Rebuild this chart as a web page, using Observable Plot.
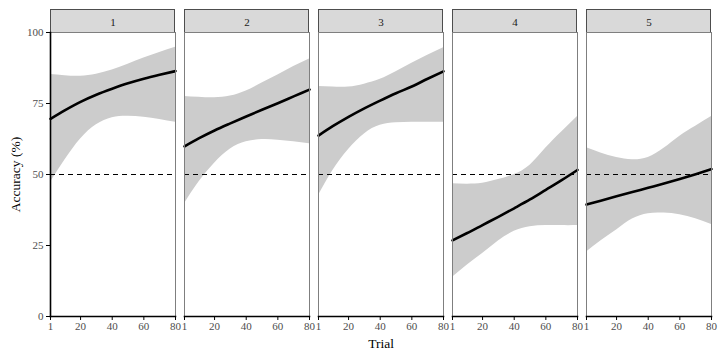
<!DOCTYPE html>
<html><head><meta charset="utf-8">
<script src="https://cdn.jsdelivr.net/npm/d3@7"></script>
<script src="https://cdn.jsdelivr.net/npm/@observablehq/plot@0.6"></script>
<style>
body{margin:0;background:#fff;}
</style>
</head><body><div id="chart"></div>
<script>
const panels = [1, 2, 3, 4, 5];
const trials = [1, 10, 20, 30, 40, 50, 60, 70, 80];
const xTicks = [1, 20, 40, 60, 80];
const yTicks = [0, 25, 50, 75, 100];
const chance = 50;
const xLabel = "Trial";
const yLabel = "Accuracy (%)";

const fit1 = [69.6, 72.6, 75.6, 78.1, 80.2, 82.1, 83.7, 85.1, 86.4];
const hi1  = [85.2, 84.8, 84.6, 85.3, 86.8, 88.8, 91.0, 93.0, 94.8];
const lo1  = [47.3, 55.0, 62.5, 67.5, 70.0, 70.5, 70.2, 69.4, 68.4];

const fit2 = [59.9, 62.7, 65.5, 68.0, 70.4, 72.8, 75.1, 77.5, 79.9];
const hi2  = [77.5, 77.2, 77.0, 77.6, 79.4, 82.2, 85.0, 88.0, 90.7];
const lo2  = [39.7, 47.3, 54.0, 59.0, 61.5, 62.3, 62.1, 61.5, 60.8];

const fit3 = [63.7, 67.0, 70.3, 73.3, 76.0, 78.6, 81.0, 83.7, 86.3];
const hi3  = [81.0, 80.8, 80.8, 81.8, 83.5, 86.2, 89.2, 92.0, 94.6];
const lo3  = [42.6, 51.3, 58.8, 64.3, 67.3, 68.2, 68.4, 68.4, 68.4];

const fit4 = [26.8, 29.3, 32.2, 35.1, 38.1, 41.2, 44.6, 48.0, 51.6];
const hi4  = [46.7, 46.6, 46.9, 48.2, 50.0, 53.3, 59.3, 65.0, 70.4];
const lo4  = [13.8, 18.0, 22.2, 26.6, 30.0, 31.6, 32.0, 32.0, 32.0];

const fit5 = [39.4, 40.8, 42.3, 43.8, 45.3, 46.8, 48.4, 50.1, 51.9];
const hi5  = [59.4, 57.6, 56.0, 55.2, 56.0, 59.2, 63.5, 67.0, 70.4];
const lo5  = [22.7, 26.6, 30.5, 34.3, 36.2, 36.4, 35.8, 34.4, 32.4];

const fits = [fit1, fit2, fit3, fit4, fit5];
const his = [hi1, hi2, hi3, hi4, hi5];
const los = [lo1, lo2, lo3, lo4, lo5];

const rows = panels.flatMap((p, i) => trials.map((t, j) => ({
  panel: p, trial: t, fit: fits[i][j], hi: his[i][j], lo: los[i][j]
})));

const STRIP_H = 23;
const strip = Plot.frame({
  render(index, scales, values, dim) {
    const g = d3.create("svg:g");
    g.append("rect")
      .attr("x", dim.marginLeft + 0.5)
      .attr("y", dim.marginTop - STRIP_H + 0.5)
      .attr("width", dim.width - dim.marginLeft - dim.marginRight - 1)
      .attr("height", STRIP_H)
      .attr("fill", "#d9d9d9")
      .attr("stroke", "#4d4d4d")
      .attr("stroke-width", 1);
    return g.node();
  }
});

const FONT = "'Liberation Serif', 'Times New Roman', serif";

const chart = Plot.plot({
  width: 720,
  height: 360,
  marginLeft: 49,
  marginRight: 9,
  marginTop: 32,
  marginBottom: 44,
  style: {fontFamily: FONT, fontSize: "11px", background: "#fff"},
  fx: {domain: panels, padding: 0.069, paddingOuter: 0},
  x: {domain: [1, 80]},
  y: {domain: [0, 100]},
  marks: [
    strip,
    Plot.areaY(rows, {x: "trial", y1: "lo", y2: "hi", fx: "panel", fill: "#cccccc", curve: "natural"}),
    Plot.ruleY([chance], {stroke: "black", strokeWidth: 1.1, strokeDasharray: "5,4"}),
    Plot.line(rows, {x: "trial", y: "fit", fx: "panel", stroke: "black", strokeWidth: 2.6, curve: "monotone-x"}),
    Plot.frame({stroke: "#7f7f7f", strokeWidth: 1}),
    Plot.frame({anchor: "bottom", stroke: "black", strokeWidth: 1.6}),
    Plot.frame({anchor: "left", facetAnchor: "left", stroke: "black", strokeWidth: 1.6}),
    Plot.axisY({ticks: yTicks, tickSize: 4, tickPadding: 3, color: "#4d4d4d", stroke: "black", label: null, fontSize: 11}),
    Plot.axisX({ticks: xTicks, tickSize: 4, tickPadding: 2, color: "#4d4d4d", stroke: "black", label: null, fontSize: 11}),
    Plot.axisFx({anchor: "top", tickSize: 0, tickPadding: 7, label: null, color: "#1a1a1a", fontSize: 11}),
    Plot.text([yLabel], {facet: "super", frameAnchor: "left", textAnchor: "middle", lineAnchor: "middle", rotate: -90, dx: -35, fontSize: 13.5, fill: "black"}),
    Plot.text([xLabel], {facet: "super", frameAnchor: "bottom", textAnchor: "middle", lineAnchor: "bottom", dy: 31, fontSize: 13.5, fill: "black"})
  ]
});
document.getElementById("chart").appendChild(chart);
</script>
</body></html>
